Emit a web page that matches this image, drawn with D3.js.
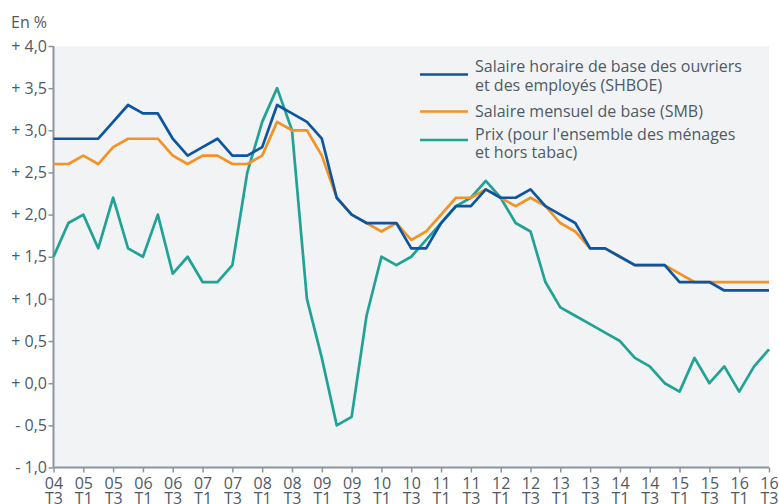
<!DOCTYPE html>
<html>
<head>
<meta charset="utf-8">
<script src="https://d3js.org/d3.v7.min.js"></script>
<style>
  body { margin: 0; background: #fff; }
  text { font-family: "Open Sans", sans-serif; fill: #4f5a64; }
</style>
</head>
<body>
<svg id="chart" width="779" height="504"></svg>
<script>
// Quarters from 04 T3 to 16 T3
const quarters = [
  "04T3","04T4","05T1","05T2","05T3","05T4","06T1","06T2","06T3","06T4",
  "07T1","07T2","07T3","07T4","08T1","08T2","08T3","08T4","09T1","09T2",
  "09T3","09T4","10T1","10T2","10T3","10T4","11T1","11T2","11T3","11T4",
  "12T1","12T2","12T3","12T4","13T1","13T2","13T3","13T4","14T1","14T2",
  "14T3","14T4","15T1","15T2","15T3","15T4","16T1","16T2","16T3"
];

// Salaire horaire de base des ouvriers et des employés
const shboe = [2.9,2.9,2.9,2.9,3.1,3.3,3.2,3.2,2.9,2.7,2.8,2.9,2.7,2.7,2.8,3.3,3.2,3.1,2.9,2.2,2.0,1.9,1.9,1.9,
  1.6,1.6,1.9,2.1,2.1,2.3,2.2,2.2,2.3,2.1,2.0,1.9,1.6,1.6,
  1.5,1.4,1.4,1.4,1.2,1.2,1.2,1.1,1.1,1.1,1.1];

// Salaire mensuel de base
const smb = [2.6,2.6,2.7,2.6,2.8,2.9,2.9,2.9,2.7,2.6,2.7,2.7,2.6,2.6,2.7,3.1,3.0,3.0,2.7,2.2,2.0,1.9,1.8,1.9,
  1.7,1.8,2.0,2.2,2.2,2.3,2.2,2.1,2.2,2.1,1.9,1.8,1.6,1.6,
  1.5,1.4,1.4,1.4,1.3,1.2,1.2,1.2,1.2,1.2,1.2];

// Prix (ensemble des ménages, hors tabac)
const prix = [1.5,1.9,2.0,1.6,2.2,1.6,1.5,2.0,1.3,1.5,1.2,1.2,1.4,2.5,3.1,3.5,3.0,1.0,0.3,-0.5,-0.4,0.8,1.5,1.4,
  1.5,1.7,1.9,2.1,2.2,2.4,2.2,1.9,1.8,1.2,0.9,0.8,0.7,0.6,
  0.5,0.3,0.2,0.0,-0.1,0.3,0.0,0.2,-0.1,0.2,0.4];

const yTicks = [-1, -0.5, 0, 0.5, 1, 1.5, 2, 2.5, 3, 3.5, 4];

const seriesNames = [
  ["Salaire horaire de base des ouvriers", "et des employés (SHBOE)"],
  ["Salaire mensuel de base (SMB)"],
  ["Prix (pour l'ensemble des ménages", "et hors tabac)"]
];
const colors = ["#0c55a3", "#f39325", "#21a294"];

const margin = { left: 53.5, right: 10, top: 46, bottom: 36.5 };
const width = 779, height = 504;

const svg = d3.select("#chart");

const x = d3.scalePoint()
  .domain(quarters)
  .range([margin.left, width - margin.right]);

const y = d3.scaleLinear()
  .domain([-1, 4])
  .range([height - margin.bottom, margin.top]);

// plot background
svg.append("rect")
  .attr("x", margin.left)
  .attr("y", margin.top)
  .attr("width", width - margin.right - margin.left)
  .attr("height", height - margin.bottom - margin.top)
  .attr("fill", "#f1f3f5");

// unit label
svg.append("text")
  .attr("x", 11)
  .attr("y", 28)
  .style("font-size", "16px")
  .text("En %");

// y axis
const fmtY = v => (v < 0 ? "- " : "+ ") + Math.abs(v).toFixed(1).replace(".", ",");
const yAxis = svg.append("g")
  .attr("transform", `translate(${margin.left},0)`)
  .call(d3.axisLeft(y).tickValues(yTicks).tickFormat(fmtY).tickSize(5).tickPadding(1.5));

// x axis
const xAxis = svg.append("g")
  .attr("transform", `translate(0,${height - margin.bottom})`)
  .call(d3.axisBottom(x).tickValues(quarters.filter((q, i) => i % 2 === 0)).tickSize(5).tickFormat(""));

xAxis.selectAll(".tick").each(function(q) {
  const t = d3.select(this).append("text")
    .attr("text-anchor", "middle")
    .style("font-size", "16px");
  t.append("tspan").attr("x", 0).attr("y", 21).text(q.slice(0, 2));
  t.append("tspan").attr("x", 0).attr("y", 36).text(q.slice(2));
});

[yAxis, xAxis].forEach(a => {
  a.select(".domain").attr("stroke", "#8b959e").attr("stroke-width", 2);
  a.selectAll(".tick line").attr("stroke", "#8b959e").attr("stroke-width", 1.5);
  a.selectAll(".tick text").style("font-size", "16px").attr("fill", "#4f5a64");
});
yAxis.select(".domain").attr("d", `M0,${y(4)}V${y(-1)}`);
xAxis.select(".domain").attr("d", `M${margin.left},0H${width - margin.right}`);

// lines
const line = d3.line()
  .x((d, i) => x(quarters[i]))
  .y(d => y(d));

[prix, smb, shboe].forEach((s, k) => {
  svg.append("path")
    .datum(s)
    .attr("fill", "none")
    .attr("stroke", colors[2 - k])
    .attr("stroke-width", 2.7)
    .attr("stroke-linejoin", "round")
    .attr("d", line);
});

// legend
const legendY = [74.5, 111.5, 140];
const legendBase = [[72, 91], [117], [140, 158]];
const legend = svg.append("g");
seriesNames.forEach((lines, k) => {
  legend.append("line")
    .attr("x1", 420).attr("x2", 468)
    .attr("y1", legendY[k]).attr("y2", legendY[k])
    .attr("stroke", colors[k])
    .attr("stroke-width", 2.7);
  lines.forEach((l, j) => {
    legend.append("text")
      .attr("x", 475)
      .attr("y", legendBase[k][j])
      .style("font-size", "16px")
      .text(l);
  });
});
</script>
</body>
</html>
